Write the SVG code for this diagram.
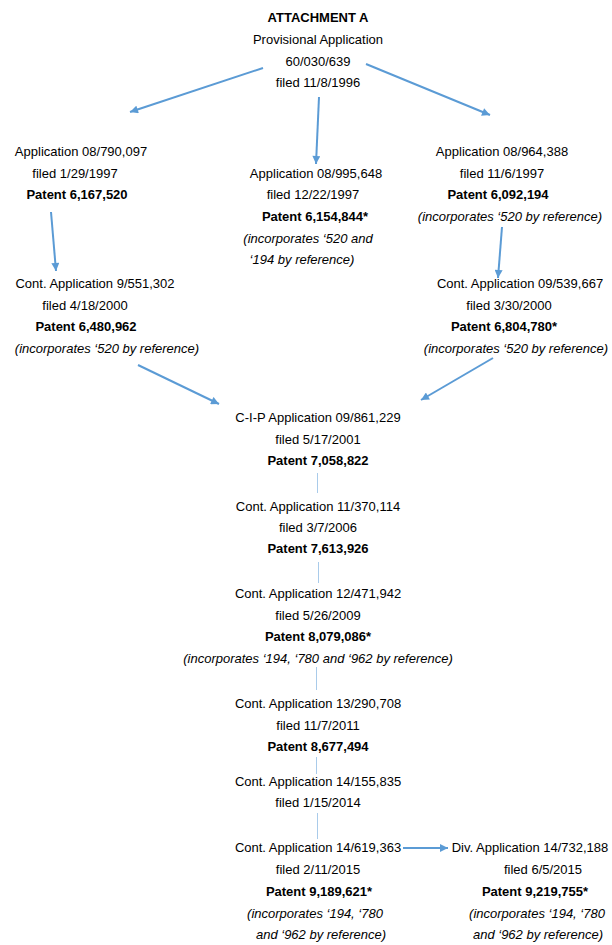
<svg xmlns="http://www.w3.org/2000/svg" width="612" height="945" viewBox="0 0 612 945">
<defs>
<marker id="ah" viewBox="0 0 10 10" refX="10" refY="5" markerWidth="9" markerHeight="8" markerUnits="userSpaceOnUse" orient="auto">
<path d="M0,0 L10,5 L0,10 z" fill="#5B9BD5"/>
</marker>
<style>
text{font-family:"Liberation Sans",Arial,sans-serif;font-size:13px;fill:#000;text-anchor:middle}
.b{font-weight:bold}
.i{font-style:italic}
.arr{stroke:#5B9BD5;stroke-width:2;fill:none;marker-end:url(#ah)}
.ln{stroke:#A9CBEA;stroke-width:1;fill:none}
</style>
</defs>
<rect width="612" height="945" fill="#fff"/>
<g id="connectors">
<path class="arr" d="M263,68 L130,112"/>
<path class="arr" d="M319,97 L316,164"/>
<path class="arr" d="M366,64 L490,115"/>
<path class="arr" d="M51,212 L56,271"/>
<path class="arr" d="M502,227 L498,278"/>
<path class="arr" d="M138,365 L219,404"/>
<path class="arr" d="M493,358 L421,400"/>
<path class="ln" d="M317.5,473 V493"/>
<path class="ln" d="M318.5,562 V583"/>
<path class="ln" d="M316.5,667 V690"/>
<path class="ln" d="M316.5,757 V774"/>
<path class="ln" d="M317.5,813 V839"/>
<path class="arr" d="M403,848 L448,848"/>
</g>
<g id="provisional">
<text class="b" x="318" y="22">ATTACHMENT A</text>
<text x="318" y="44">Provisional Application</text>
<text x="318" y="66">60/030/639</text>
<text x="318" y="87">filed 11/8/1996</text>
</g>
<g id="app-790097">
<text x="81" y="156">Application 08/790,097</text>
<text x="75" y="178">filed 1/29/1997</text>
<text class="b" x="77" y="199">Patent 6,167,520</text>
</g>
<g id="app-995648">
<text x="316" y="178">Application 08/995,648</text>
<text x="313" y="199">filed 12/22/1997</text>
<text class="b" x="315" y="221">Patent 6,154,844*</text>
<text class="i" x="308" y="243">(incorporates ‘520 and</text>
<text class="i" x="302" y="264">‘194 by reference)</text>
</g>
<g id="app-964388">
<text x="502" y="156">Application 08/964,388</text>
<text x="502" y="178">filed 11/6/1997</text>
<text class="b" x="498" y="199">Patent 6,092,194</text>
<text class="i" x="510" y="221">(incorporates ‘520 by reference)</text>
</g>
<g id="app-551302">
<text x="95" y="288">Cont. Application 9/551,302</text>
<text x="85" y="310">filed 4/18/2000</text>
<text class="b" x="86" y="331">Patent 6,480,962</text>
<text class="i" x="107" y="353">(incorporates ‘520 by reference)</text>
</g>
<g id="app-539667">
<text x="520" y="288">Cont. Application 09/539,667</text>
<text x="509" y="310">filed 3/30/2000</text>
<text class="b" x="504" y="331">Patent 6,804,780*</text>
<text class="i" x="516" y="353">(incorporates ‘520 by reference)</text>
</g>
<g id="app-861229">
<text x="318" y="422">C-I-P Application 09/861,229</text>
<text x="318" y="444">filed 5/17/2001</text>
<text class="b" x="318" y="465">Patent 7,058,822</text>
</g>
<g id="app-370114">
<text x="318" y="511">Cont. Application 11/370,114</text>
<text x="318" y="532">filed 3/7/2006</text>
<text class="b" x="318" y="553">Patent 7,613,926</text>
</g>
<g id="app-471942">
<text x="318" y="598">Cont. Application 12/471,942</text>
<text x="318" y="620">filed 5/26/2009</text>
<text class="b" x="318" y="641">Patent 8,079,086*</text>
<text class="i" x="318" y="663">(incorporates ‘194, ‘780 and ‘962 by reference)</text>
</g>
<g id="app-290708">
<text x="318" y="708">Cont. Application 13/290,708</text>
<text x="318" y="730">filed 11/7/2011</text>
<text class="b" x="318" y="751">Patent 8,677,494</text>
</g>
<g id="app-155835">
<text x="318" y="786">Cont. Application 14/155,835</text>
<text x="318" y="807">filed 1/15/2014</text>
</g>
<g id="app-619363">
<text x="318" y="852">Cont. Application 14/619,363</text>
<text x="318" y="874">filed 2/11/2015</text>
<text class="b" x="319" y="896">Patent 9,189,621*</text>
<text class="i" x="315" y="918">(incorporates ‘194, ‘780</text>
<text class="i" x="321" y="939">and ‘962 by reference)</text>
</g>
<g id="app-732188">
<text x="530" y="852">Div. Application 14/732,188</text>
<text x="543" y="874">filed 6/5/2015</text>
<text class="b" x="535" y="896">Patent 9,219,755*</text>
<text class="i" x="537" y="918">(incorporates ‘194, ‘780</text>
<text class="i" x="538" y="939">and ‘962 by reference)</text>
</g>
</svg>
